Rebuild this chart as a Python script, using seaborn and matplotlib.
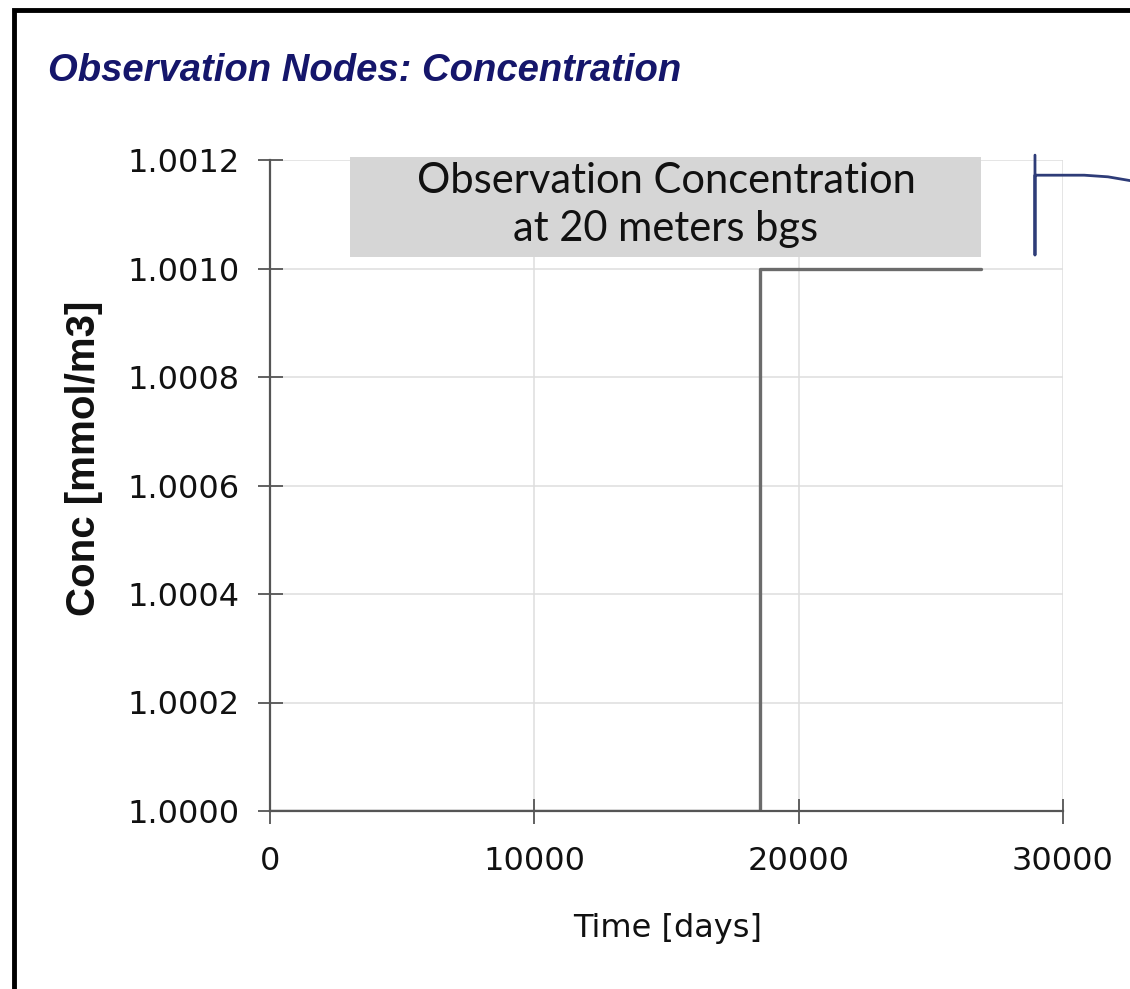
import numpy as np
import pandas as pd
import matplotlib
matplotlib.use("Agg")
import matplotlib.pyplot as plt
from matplotlib.patches import Rectangle
import seaborn as sns

# Observation node record (step change in concentration)
time_days = [0, 18540, 26900]
conc_mmol_m3 = [1.0000, 1.0010, 1.0010]

# Edge of the neighbouring node's trace
nb_time = [28940, 28940, 28940, 30800, 31700, 32540]
nb_conc = [1.001209, 1.001025, 1.001172, 1.001172, 1.001169, 1.001162]

x_ticks = [0, 10000, 20000, 30000]
y_ticks = [1.0000, 1.0002, 1.0004, 1.0006, 1.0008, 1.0010, 1.0012]
y_tick_labels = ["1.0000", "1.0002", "1.0004", "1.0006", "1.0008", "1.0010", "1.0012"]

title = "Observation Nodes: Concentration"
note = "Observation Concentration\nat 20 meters bgs"

sns.set_theme(style="whitegrid")
plt.rcParams["font.family"] = ["DejaVu Sans"]

fig = plt.figure(figsize=(11.3, 9.89), dpi=100)
ax = fig.add_axes([270 / 1130, 1 - 811 / 989, 793 / 1130, 651 / 989])
ax.set_facecolor("white")

df = pd.DataFrame({"time": time_days, "conc": conc_mmol_m3})
sns.lineplot(data=df, x="time", y="conc", ax=ax, color="#6b6b6b",
             linewidth=2.4, drawstyle="steps-post", estimator=None, sort=False)

ax.set_xlim(0, 30000)
ax.set_ylim(1.0000, 1.0012)
ax.set_xticks(x_ticks)
ax.set_xticklabels([str(t) for t in x_ticks])
ax.set_yticks(y_ticks)
ax.set_yticklabels(y_tick_labels)

ax.grid(True, color="#dedede", linewidth=1.1)
for side in ["top", "right"]:
    ax.spines[side].set_visible(False)
for side in ["left", "bottom"]:
    ax.spines[side].set_visible(True)
    ax.spines[side].set_color("#555555")
    ax.spines[side].set_linewidth(1.6)

ax.tick_params(axis="both", which="major", direction="inout", length=18,
               width=1.3, color="#555555", labelsize=23, labelcolor="#111111",
               bottom=True, left=True, top=False, right=False)
ax.tick_params(axis="y", pad=13)
ax.tick_params(axis="x", pad=16)

ax.set_xlabel("Time [days]", fontsize=23, color="#111111")
ax.xaxis.set_label_coords(0.502, -0.157)
ax.set_ylabel("Conc [mmol/m3]", fontsize=29, fontweight="bold",
              family="Liberation Sans", color="#111111")
ax.yaxis.set_label_coords(-0.234, 0.542)
ax.yaxis.label.set_va("center")

# Caption box
ax.add_patch(Rectangle((3030, 1.001021), 26900 - 3030, 1.001206 - 1.001021,
                       facecolor="#d6d6d6", edgecolor="none", zorder=3,
                       clip_on=False))
ax.text(14980, 1.001117, note, ha="center", va="center", fontsize=30,
        family="Lato", color="#111111", linespacing=1.3, zorder=4,
        clip_on=False)

# Neighbouring trace
ax.plot(nb_time, nb_conc, color="#2e3c78", linewidth=2.0, clip_on=False,
        zorder=4)

ax.set_title("")
fig.text(48 / 1130, 1 - 53 / 989, title, ha="left", va="top", fontsize=27.5,
         fontweight="bold", fontstyle="italic", family="Liberation Sans",
         color="#15166b")

# Outer frame
fig.add_artist(Rectangle((14 / 1130, -0.01), 1.2, 1 - 10 / 989 + 0.01,
                         transform=fig.transFigure, fill=False,
                         edgecolor="black", linewidth=3.5, clip_on=False))

fig.savefig("out.png", dpi=100, facecolor="white")
